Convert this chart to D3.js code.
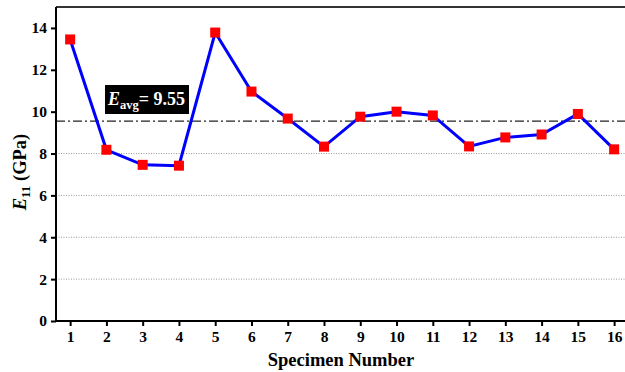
<!DOCTYPE html>
<meta charset="utf-8">
<title>E11 by specimen</title>
<style>
  body { margin: 0; background: #fff; }
  text { font-family: "Liberation Serif", "Times New Roman", serif; font-weight: bold; }
</style>
<div id="viz"></div>
<script src="https://cdnjs.cloudflare.com/ajax/libs/d3/7.8.5/d3.min.js"></script>
<script>
var specimens = d3.range(1, 17);
var modulus = [13.45, 8.18, 7.46, 7.42, 13.78, 10.96, 9.67, 8.33, 9.76, 10.0, 9.82, 8.34, 8.77, 8.91, 9.89, 8.2];
var average = 9.55;
var yTicks = [0, 2, 4, 6, 8, 10, 12, 14];
var gridTicks = [2, 4, 6, 8];

var width = 625, height = 372;
var plotLeft = 56, plotTop = 7, plotBottom = 321, plotRight = 629;

var svg = d3.select("#viz").append("svg")
  .attr("width", width)
  .attr("height", height);

var x = d3.scaleLinear().domain([0.61, 16.41]).range([plotLeft, plotRight]);
var y = d3.scaleLinear().domain([0, 15]).range([plotBottom, plotTop]);

// dotted grid
svg.selectAll(".grid").data(gridTicks).enter().append("line")
  .attr("x1", plotLeft).attr("x2", plotRight)
  .attr("y1", d => y(d)).attr("y2", d => y(d))
  .attr("stroke", "#999").attr("stroke-width", 1)
  .attr("stroke-dasharray", "1,1.5");

// average line
svg.append("line")
  .attr("x1", plotLeft).attr("x2", plotRight)
  .attr("y1", y(average)).attr("y2", y(average))
  .attr("stroke", "#222").attr("stroke-width", 1.2)
  .attr("stroke-dasharray", "9,3,2,3");

// frame top
svg.append("line")
  .attr("x1", plotLeft).attr("x2", plotRight)
  .attr("y1", plotTop).attr("y2", plotTop)
  .attr("stroke", "#333").attr("stroke-width", 2);

// axes
var xAxis = svg.append("g")
  .attr("transform", "translate(0," + plotBottom + ")")
  .call(d3.axisBottom(x).tickValues(specimens).tickSize(5).tickPadding(5));
var yAxis = svg.append("g")
  .attr("transform", "translate(" + plotLeft + ",0)")
  .call(d3.axisLeft(y).tickValues(yTicks).tickSize(5).tickPadding(4));

[xAxis, yAxis].forEach(function(g) {
  g.select(".domain").attr("stroke", "#000").attr("stroke-width", 2);
  g.selectAll(".tick line").attr("stroke", "#000").attr("stroke-width", 2);
  g.selectAll(".tick text")
    .attr("fill", "#000")
    .style("font-family", "'Liberation Serif', serif")
    .style("font-weight", "bold")
    .style("font-size", "15.5px");
});
xAxis.select(".domain").attr("d", "M" + plotLeft + ",0H" + plotRight);
yAxis.select(".domain").attr("d", "M0," + plotTop + "V" + plotBottom);

// series line
var line = d3.line().x((d, i) => x(specimens[i])).y(d => y(d));
svg.append("path")
  .datum(modulus)
  .attr("d", line)
  .attr("fill", "none")
  .attr("stroke", "#0000ff")
  .attr("stroke-width", 3);

// markers
svg.selectAll(".pt").data(modulus).enter().append("rect")
  .attr("x", (d, i) => x(specimens[i]) - 5)
  .attr("y", d => y(d) - 5)
  .attr("width", 10).attr("height", 10)
  .attr("fill", "#ff0000");

// average label
svg.append("rect")
  .attr("x", 105).attr("y", 85)
  .attr("width", 84).attr("height", 29)
  .attr("fill", "#000");
var lab = svg.append("text")
  .attr("x", 108).attr("y", 105)
  .attr("fill", "#fff")
  .style("font-size", "18px");
lab.append("tspan").style("font-style", "italic").text("E");
lab.append("tspan").attr("dy", 4).style("font-size", "12.5px").text("avg");
lab.append("tspan").attr("dy", -4).text("= " + average.toFixed(2));

// axis titles
svg.append("text")
  .attr("x", 341).attr("y", 366)
  .attr("text-anchor", "middle")
  .style("font-size", "18.5px")
  .text("Specimen Number");

var yl = svg.append("text")
  .attr("transform", "translate(26,172) rotate(-90)")
  .attr("text-anchor", "middle")
  .style("font-size", "18.5px");
yl.append("tspan").style("font-style", "italic").text("E");
yl.append("tspan").attr("dy", 4).style("font-size", "13px").text("11");
yl.append("tspan").attr("dy", -4).text(" (GPa)");
</script>
